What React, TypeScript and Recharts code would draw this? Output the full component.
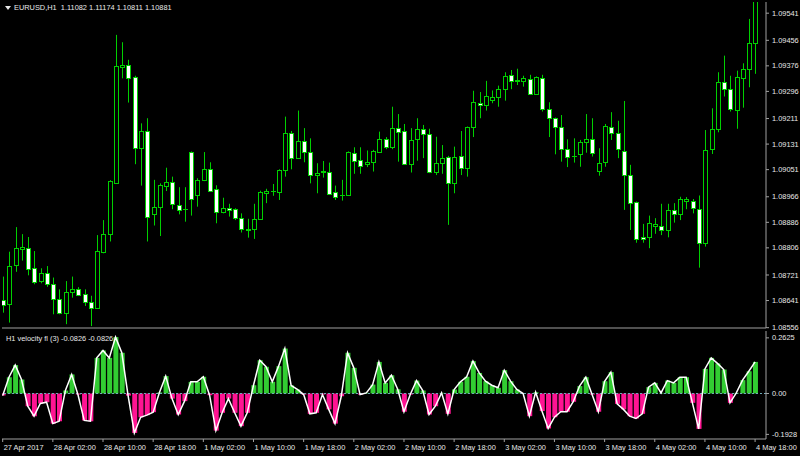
import React from 'react';
import { ComposedChart, Bar, Line, XAxis, YAxis, ReferenceLine, Cell } from 'recharts';

// EURUSD H1, 27 Apr 18:00 .. 4 May 18:00 (one entry per hour bar)
const opens = [
  1.08643, 1.08629, 1.08752, 1.08803, 1.08805, 1.08742, 1.08703, 1.08726, 1.08692, 1.08645,
  1.08601, 1.08669, 1.08678, 1.08661, 1.08636, 1.08619, 1.08794, 1.08849, 1.0901, 1.09372,
  1.09379, 1.09342, 1.09118, 1.09172, 1.08911, 1.08935, 1.09001, 1.09012, 1.0894, 1.08928,
  1.09106, 1.0897, 1.09017, 1.09052, 1.0899, 1.08919, 1.08931, 1.08927, 1.08899, 1.08865,
  1.08864, 1.08896, 1.08979, 1.08983, 1.08981, 1.0905, 1.09165, 1.09087, 1.09142, 1.09107,
  1.09034, 1.09043, 1.09045, 1.0898, 1.08972, 1.08972, 1.09104, 1.09081, 1.09068, 1.09074,
  1.09106, 1.09147, 1.09121, 1.09181, 1.09172, 1.09068, 1.09146, 1.09179, 1.09162, 1.09045,
  1.09071, 1.09092, 1.0901, 1.09095, 1.09055, 1.09184, 1.09261, 1.09252, 1.09269, 1.0928,
  1.09303, 1.09347, 1.09331, 1.0933, 1.09335, 1.09287, 1.09339, 1.09242, 1.09212, 1.09186,
  1.09115, 1.09094, 1.09099, 1.09137, 1.09146, 1.09048, 1.09074, 1.09186, 1.09165, 1.0911,
  1.09034, 1.08949, 1.08839, 1.08841, 1.08876, 1.08876, 1.08862, 1.08925, 1.08912, 1.08954,
  1.08953, 1.08928, 1.08822, 1.09115, 1.09179, 1.09324, 1.09304, 1.09238, 1.09337, 1.09366,
  1.09447,
];
const highs = [
  1.08716, 1.08794, 1.08871, 1.08849, 1.0884, 1.08796, 1.08742, 1.08749, 1.08713, 1.08676,
  1.08702, 1.08716, 1.08683, 1.08676, 1.08656, 1.08846, 1.08893, 1.09018, 1.09473, 1.0945,
  1.09395, 1.09345, 1.09196, 1.09212, 1.09019, 1.09008, 1.09057, 1.09029, 1.08996, 1.08996,
  1.09108, 1.09024, 1.09106, 1.09074, 1.09002, 1.08963, 1.08944, 1.0893, 1.08914, 1.08897,
  1.08944, 1.08985, 1.08991, 1.09006, 1.09052, 1.09217, 1.09172, 1.09236, 1.09181, 1.09149,
  1.09071, 1.09078, 1.09073, 1.09001, 1.09019, 1.09108, 1.09121, 1.09121, 1.09111, 1.09113,
  1.0917, 1.09153, 1.09248, 1.09225, 1.09194, 1.09181, 1.09212, 1.09191, 1.09179, 1.09154,
  1.09128, 1.09094, 1.09123, 1.09172, 1.09186, 1.09298, 1.09294, 1.09329, 1.09299, 1.09314,
  1.09356, 1.09363, 1.09367, 1.09345, 1.09348, 1.09343, 1.09348, 1.09262, 1.09214, 1.09222,
  1.09146, 1.09149, 1.09144, 1.09225, 1.09212, 1.09118, 1.09194, 1.09231, 1.09204, 1.09266,
  1.09066, 1.08951, 1.08881, 1.08907, 1.08899, 1.08944, 1.08944, 1.08946, 1.08966, 1.08965,
  1.08959, 1.0897, 1.09175, 1.09243, 1.09356, 1.09408, 1.09345, 1.09361, 1.09384, 1.09523,
  1.0962,
];
const lows = [
  1.08603, 1.08572, 1.08731, 1.08766, 1.0872, 1.08692, 1.08695, 1.08684, 1.08598, 1.08598,
  1.08567, 1.0865, 1.08655, 1.08624, 1.08561, 1.08615, 1.08789, 1.08826, 1.09008, 1.09337,
  1.09261, 1.09068, 1.09001, 1.08826, 1.08876, 1.08843, 1.08984, 1.08927, 1.08911, 1.08888,
  1.08907, 1.08935, 1.09015, 1.08983, 1.08883, 1.08914, 1.08904, 1.08893, 1.08854, 1.08838,
  1.08834, 1.08894, 1.08946, 1.08969, 1.08956, 1.09029, 1.09052, 1.09085, 1.09074, 1.09008,
  1.08977, 1.09026, 1.08972, 1.08956, 1.08954, 1.0897, 1.09038, 1.09038, 1.09059, 1.09045,
  1.09104, 1.09115, 1.09115, 1.09076, 1.09066, 1.09042, 1.09079, 1.09087, 1.0904, 1.09034,
  1.09038, 1.08878, 1.08977, 1.09034, 1.09029, 1.09153, 1.09212, 1.09236, 1.09259, 1.09248,
  1.09267, 1.09303, 1.09316, 1.09311, 1.09285, 1.09285, 1.09233, 1.09153, 1.09099, 1.09076,
  1.09059, 1.09073, 1.0906, 1.09104, 1.09092, 1.09032, 1.0906, 1.09144, 1.09087, 1.08925,
  1.08862, 1.08822, 1.08822, 1.08805, 1.0885, 1.08846, 1.08839, 1.08885, 1.08893, 1.08927,
  1.08914, 1.08744, 1.0881, 1.091, 1.09168, 1.0928, 1.09233, 1.09179, 1.09245, 1.09309,
  1.09351,
];
const closes = [
  1.08627, 1.08749, 1.08805, 1.08809, 1.08741, 1.08698, 1.08726, 1.08692, 1.08645, 1.08603,
  1.08669, 1.08676, 1.08659, 1.08637, 1.08617, 1.08796, 1.0885, 1.09016, 1.09374, 1.09379,
  1.09337, 1.09118, 1.09172, 1.08904, 1.08935, 1.09003, 1.09012, 1.08943, 1.08925, 1.08927,
  1.08959, 1.09019, 1.09052, 1.08985, 1.08919, 1.0893, 1.08924, 1.08899, 1.08864, 1.08863,
  1.08896, 1.08981, 1.08985, 1.08984, 1.0905, 1.09165, 1.09087, 1.09142, 1.09107, 1.09034,
  1.09042, 1.09046, 1.08974, 1.08966, 1.08971, 1.09107, 1.09079, 1.09063, 1.09076, 1.0911,
  1.09146, 1.09121, 1.09181, 1.0917, 1.09068, 1.09144, 1.09178, 1.09162, 1.09043, 1.09073,
  1.09087, 1.0901, 1.0909, 1.09055, 1.09184, 1.09262, 1.09254, 1.09282, 1.0928, 1.09303,
  1.09345, 1.09329, 1.0933, 1.09337, 1.09288, 1.09341, 1.0924, 1.09212, 1.09184, 1.09115,
  1.09092, 1.09093, 1.09138, 1.09146, 1.09102, 1.09073, 1.09188, 1.09167, 1.09115, 1.09034,
  1.08946, 1.08833, 1.08833, 1.08883, 1.08881, 1.08862, 1.08925, 1.08911, 1.08959, 1.08958,
  1.0893, 1.08822, 1.09111, 1.09179, 1.09327, 1.09303, 1.0924, 1.09341, 1.09366, 1.09447,
  1.0959,
];
// H1 velocity fl (3)
const velocity = [
  -0.01, 0.077, 0.134, 0.066, -0.06, -0.107, -0.047, -0.041, -0.142, -0.131,
  0.014, 0.09, -0.005, -0.127, -0.131, 0.168, 0.203, 0.168, 0.266, 0.192,
  -0.01, -0.186, -0.112, -0.102, -0.088, 0.005, 0.082, -0.024, -0.099, -0.036,
  0.055, 0.055, 0.079, -0.008, -0.175, -0.091, -0.024, -0.091, -0.154, -0.091,
  0.039, 0.157, 0.126, 0.055, 0.129, 0.212, 0.038, 0.019, -0.005, -0.096,
  -0.091, -0.005, -0.075, -0.142, -0.013, 0.192, 0.121, -0.005, 0.003, 0.042,
  0.149, 0.05, 0.086, 0.02, -0.086, -0.005, 0.061, 0.014, -0.099, -0.06,
  0.003, -0.096, 0.019, 0.055, 0.079, 0.153, 0.097, 0.058, 0.039, 0.027,
  0.11, 0.058, 0.019, 0.0, -0.107, 0.006, -0.083, -0.165, -0.112, -0.086,
  -0.086, -0.039, 0.035, 0.077, -0.005, -0.086, 0.058, 0.101, -0.049, -0.075,
  -0.107, -0.118, -0.096, 0.03, 0.05, 0.003, 0.061, 0.05, 0.077, 0.077,
  -0.044, -0.167, 0.116, 0.168, 0.142, 0.113, -0.044, 0.003, 0.063, 0.105,
  0.149,
];

const priceTicks = [
  1.09541, 1.09456, 1.09376, 1.09296, 1.09211, 1.09131, 1.09051,
  1.08966, 1.08886, 1.08806, 1.08721, 1.08641, 1.08556,
];
const velTicks = [0.2625, 0, -0.1928];
const timeLabels = [
  '27 Apr 2017', '28 Apr 02:00', '28 Apr 10:00', '28 Apr 18:00', '1 May 02:00', '1 May 10:00',
  '1 May 18:00', '2 May 02:00', '2 May 10:00', '2 May 18:00', '3 May 02:00', '3 May 10:00',
  '3 May 18:00', '4 May 02:00', '4 May 10:00', '4 May 18:00',
];
const BARS_PER_LABEL = 8;

const data = opens.map((o, i) => ({
  i,
  o,
  h: highs[i],
  l: lows[i],
  c: closes[i],
  range: [lows[i], highs[i]],
  vel: velocity[i],
}));
const timeTicks = timeLabels.map((_, k) => k * BARS_PER_LABEL);

const W = 800;
const H = 456;
const X_DOMAIN: [number, number] = [-0.11, 121.74];
const PRICE_DOMAIN: [number, number] = [1.08555, 1.09576];
const VEL_DOMAIN: [number, number] = [-0.2146, 0.2948];
const FRAME = '#a0a0a0';
const TEXT = '#e8e8e8';
const FONT = '"Liberation Sans", Arial, sans-serif';
const CANDLE = '#00d000';

const Candle = (props: any) => {
  const { x, width, payload } = props;
  let { y, height } = props;
  if (height < 0) {
    y += height;
    height = -height;
  }
  const { o, h, l, c } = payload;
  const k = h === l ? 0 : height / (h - l);
  const yO = y + (h - o) * k;
  const yC = y + (h - c) * k;
  const top = Math.round(Math.min(yO, yC));
  const bot = Math.round(Math.max(yO, yC));
  const cx = Math.round(x + width / 2);
  const bull = c >= o;
  return (
    <g>
      <line x1={cx + 0.5} x2={cx + 0.5} y1={y} y2={y + height} stroke={CANDLE} strokeWidth={1} />
      {bot - top < 1 ? (
        <line x1={cx - 2} x2={cx + 3} y1={top + 0.5} y2={top + 0.5} stroke={CANDLE} strokeWidth={1} />
      ) : (
        <rect x={cx - 1.5} y={top + 0.5} width={4} height={bot - top} fill={bull ? '#000' : '#fff'} stroke={CANDLE} strokeWidth={1} />
      )}
    </g>
  );
};

const PriceTick = (props: any) => {
  const { x, y, payload } = props;
  return (
    <text x={x + 1} y={y} dy={2.6} fill={TEXT} fontSize={7.4} fontFamily={FONT} textAnchor="start">
      {payload.value.toFixed(5)}
    </text>
  );
};

const VelTick = (props: any) => {
  const { x, y, payload } = props;
  const v = payload.value;
  return (
    <text x={x + 1} y={y} dy={2.6} fill={TEXT} fontSize={7.4} fontFamily={FONT} textAnchor="start">
      {v === 0 ? '0.00' : v.toFixed(4)}
    </text>
  );
};

const TimeTick = (props: any) => {
  const { x, y, payload } = props;
  return (
    <text x={x + 1} y={y} dy={6} fill={TEXT} fontSize={7.4} fontFamily={FONT} textAnchor="start">
      {timeLabels[Math.round(payload.value / BARS_PER_LABEL)]}
    </text>
  );
};

const App: React.FC = () => {
  return (
    <div style={{ position: 'absolute', left: 0, top: 0, width: W, height: H, background: '#000', overflow: 'hidden' }}>
      {/* price window: svg taller than the plot so the lowest price label is not clipped */}
      <div style={{ position: 'absolute', left: 0, top: 0 }}>
        <ComposedChart width={W} height={340} data={data} margin={{ top: 2, right: 0, bottom: 10, left: 2 }}>
          <XAxis dataKey="i" type="number" domain={X_DOMAIN} allowDataOverflow height={2} tick={false} tickLine={false} axisLine={{ stroke: FRAME }} />
          <XAxis xAxisId="top" orientation="top" dataKey="i" type="number" domain={X_DOMAIN} allowDataOverflow height={0} tick={false} tickLine={false} axisLine={{ stroke: FRAME }} />
          <YAxis yAxisId={0} orientation="right" width={34} type="number" domain={PRICE_DOMAIN} allowDataOverflow
            ticks={priceTicks} interval={0} tick={<PriceTick />} tickSize={3} tickLine={{ stroke: FRAME }} axisLine={{ stroke: FRAME }} />
          <YAxis yAxisId="left" orientation="left" width={0} type="number" domain={PRICE_DOMAIN} tick={false} tickLine={false} axisLine={{ stroke: FRAME }} />
          <Bar dataKey="range" barSize={5} shape={<Candle />} isAnimationActive={false} />
        </ComposedChart>
      </div>
      {/* indicator window */}
      <div style={{ position: 'absolute', left: 0, top: 0 }}>
        <ComposedChart width={W} height={H} data={data} margin={{ top: 331, right: 0, bottom: 0, left: 2 }}>
          <XAxis dataKey="i" type="number" domain={X_DOMAIN} allowDataOverflow height={17}
            ticks={timeTicks} interval={0} tick={<TimeTick />} tickSize={3} tickLine={{ stroke: FRAME }} axisLine={{ stroke: FRAME }} />
          <XAxis xAxisId="top" orientation="top" dataKey="i" type="number" domain={X_DOMAIN} allowDataOverflow height={0} tick={false} tickLine={false} axisLine={{ stroke: FRAME }} />
          <YAxis yAxisId={0} orientation="right" width={34} type="number" domain={VEL_DOMAIN} allowDataOverflow
            ticks={velTicks} interval={0} tick={<VelTick />} tickSize={3} tickLine={{ stroke: FRAME }} axisLine={{ stroke: FRAME }} />
          <YAxis yAxisId="left" orientation="left" width={0} type="number" domain={VEL_DOMAIN} tick={false} tickLine={false} axisLine={{ stroke: FRAME }} />
          <Bar dataKey="vel" barSize={5} isAnimationActive={false}>
            {data.map((d, idx) => (
              <Cell key={`v-${idx}`} fill={d.vel >= 0 ? '#32cd32' : '#ff1493'} />
            ))}
          </Bar>
          <ReferenceLine y={0} stroke="#6fa8b8" strokeDasharray="2 2" />
          <Line dataKey="vel" type="linear" stroke="#ffffff" strokeWidth={1.5} dot={false} isAnimationActive={false} />
        </ComposedChart>
      </div>
      {/* window captions */}
      <svg width={10} height={8} style={{ position: 'absolute', left: 4, top: 4 }}>
        <polygon points="1,2 7,2 4,6" fill={TEXT} />
      </svg>
      <div style={{ position: 'absolute', left: 14, top: 3, color: TEXT, fontFamily: FONT, fontSize: 7.4, whiteSpace: 'pre' }}>
        EURUSD,H1  1.11082 1.11174 1.10811 1.10881
      </div>
      <div style={{ position: 'absolute', left: 6, top: 334, color: TEXT, fontFamily: FONT, fontSize: 7.4, whiteSpace: 'pre' }}>
        H1 velocity fl (3) -0.0826 -0.0826
      </div>
    </div>
  );
};

export default App;
